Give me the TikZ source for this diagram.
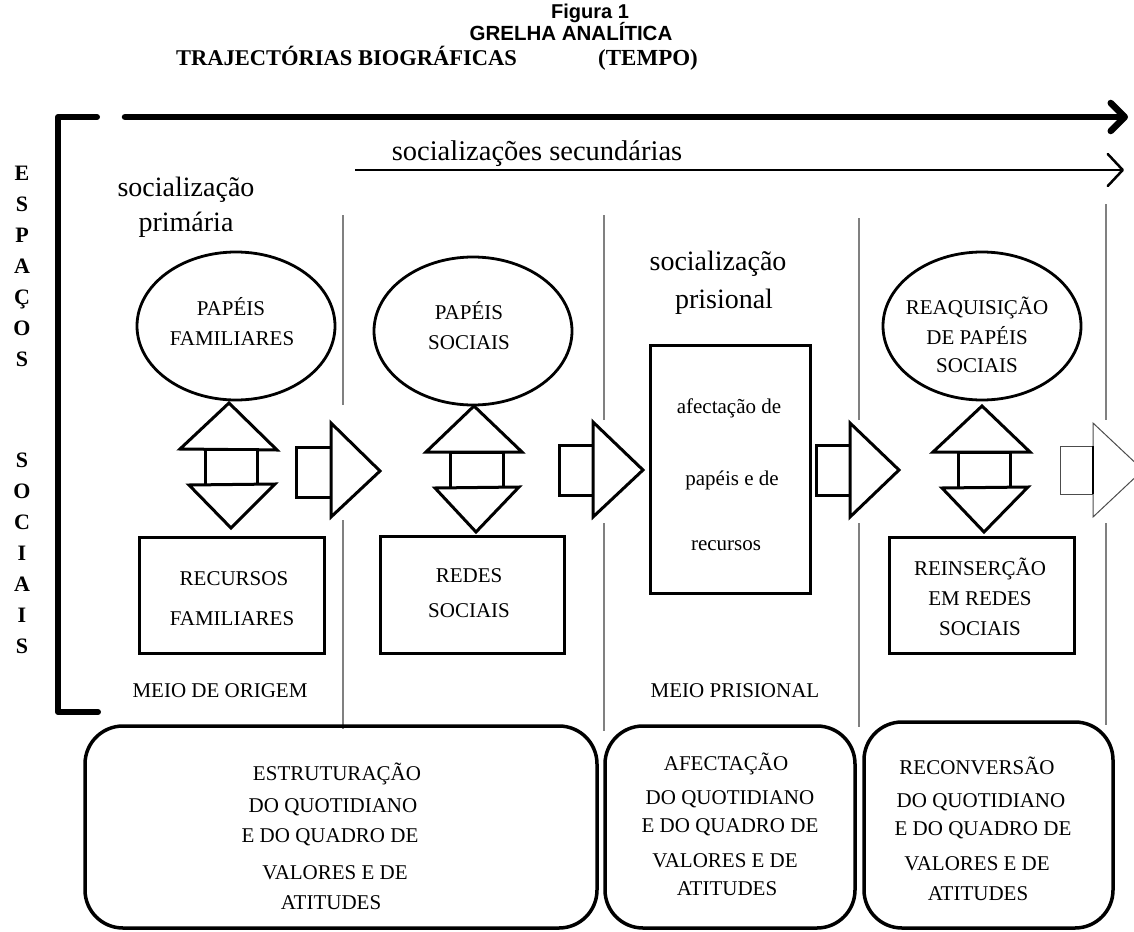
\documentclass[tikz,border=0pt]{standalone}
\usepackage{fontspec}
\setmainfont{Liberation Serif}
\newfontfamily\arialfont{Liberation Sans}
\usetikzlibrary{shapes.geometric,arrows.meta}
\begin{document}
\begin{tikzpicture}[x=1pt,y=-1pt,
  caps/.style={font=\fontsize{21}{25}\selectfont, anchor=base, inner sep=0pt},
  big/.style={font=\fontsize{28}{32}\selectfont, anchor=base, inner sep=0pt},
  lett/.style={font=\bfseries\fontsize{22}{26}\selectfont, anchor=base, inner sep=0pt},
  ell/.style={draw, ellipse, line width=2.8pt, minimum width=198pt, minimum height=148pt, inner sep=0pt},
  bx/.style={draw, rectangle, line width=3pt, inner sep=0pt},
  rbox/.style={draw, rectangle, rounded corners=38pt, line width=3.5pt, inner sep=0pt},
  blk/.style={draw, fill=white, line width=3pt, line join=miter},
  thinblk/.style={draw=black!70, fill=white, line width=1pt},
  sep/.style={draw=black!50, line width=1.2pt},
]
\clip (0,0) rectangle (1134,931);
\fill[white] (0,0) rectangle (1134,931);

% titles
\node[font=\arialfont\bfseries\fontsize{20}{23}\selectfont, anchor=base, inner sep=0pt] (fig) at (590,19) {Figura 1};
\node[font=\arialfont\bfseries\fontsize{20.5}{23}\selectfont, anchor=base, inner sep=0pt] (grelha) at (571,41) {GRELHA ANALÍTICA};
\node[font=\bfseries\fontsize{22.5}{26}\selectfont, anchor=base west, inner sep=0pt] (traj) at (176,66) {TRAJECTÓRIAS BIOGRÁFICAS};
\node[font=\bfseries\fontsize{23}{26}\selectfont, anchor=base west, inner sep=0pt] (tempo) at (598,66) {(TEMPO)};

% time arrows
\coordinate (ta0) at (125,117);
\coordinate (ta1) at (1128,117);
\draw[line width=6.5pt, line cap=round, -{Straight Barb[length=14pt, width=28pt, round]}] (ta0) -- (ta1);
\coordinate (sa0) at (355,170);
\coordinate (sa1) at (1124,170);
\draw[line width=2.5pt, -{Straight Barb[length=15pt, width=32pt, round]}] (sa0) -- (sa1);
\node[big, font=\fontsize{28.5}{32}\selectfont] (secund) at (537,160) {socializações secundárias};

% bracket
\draw[line width=6pt, line cap=round, line join=round] (97,117) -- (58,117) -- (58,712) -- (98,712);

% vertical letters
\foreach \l/\yy [count=\i] in {E/180, S/211, P/242, A/273, Ç/304, O/335, S/366, S/467, O/498, C/529, I/560, A/591, I/622, S/653}
  \node[lett] (let\i) at (22,\yy) {\l};

% separator lines
\draw[sep] (343,215) -- (343,405);
\draw[sep] (343,520) -- (343,729);
\draw[sep] (604,215) -- (604,420);
\draw[sep] (604,523) -- (604,731);
\draw[sep] (859,218) -- (859,420);
\draw[sep] (859,523) -- (859,727);
\draw[sep] (1106,204) -- (1106,420);
\draw[sep] (1106,523) -- (1106,725);

% labels
\node[big] (soc1) at (186,196) {socialização};
\node[big] (prim) at (186,231) {primária};
\node[big] (soc3) at (718,270) {socialização};
\node[big] (pris) at (724,308) {prisional};

% ellipses
\node[ell] (e1) at (236,326) {};
\node[caps] (e1a) at (231,315) {PAPÉIS};
\node[caps] (e1b) at (232,345) {FAMILIARES};
\node[ell] (e2) at (473,331) {};
\node[caps] (e2a) at (469,319) {PAPÉIS};
\node[caps] (e2b) at (469,349) {SOCIAIS};
\node[ell] (e4) at (982,326) {};
\node[caps] (e4a) at (977,314) {REAQUISIÇÃO};
\node[caps] (e4b) at (977,344) {DE PAPÉIS};
\node[caps] (e4c) at (977,372) {SOCIAIS};

% boxes
\node[bx, minimum width=185pt, minimum height=116pt] (b1) at (231.5,595) {};
\node[caps] (b1a) at (234,585) {RECURSOS};
\node[caps] (b1b) at (232,625) {FAMILIARES};
\node[bx, minimum width=184pt, minimum height=117pt] (b2) at (472,594.5) {};
\node[caps] (b2a) at (469,582) {REDES};
\node[caps] (b2b) at (469,617) {SOCIAIS};
\node[bx, minimum width=160pt, minimum height=248pt] (b3) at (730,469) {};
\node[caps] (b3a) at (729,413) {afectação de};
\node[caps] (b3b) at (732,485) {papéis e de};
\node[caps] (b3c) at (726,550) {recursos};
\node[bx, minimum width=185pt, minimum height=116pt] (b4) at (981.5,595) {};
\node[caps] (b4a) at (980,575) {REINSERÇÃO};
\node[caps] (b4b) at (980,605) {EM REDES};
\node[caps] (b4c) at (980,635) {SOCIAIS};

\node[caps] (meio1) at (220,697) {MEIO DE ORIGEM};
\node[caps] (meio3) at (735,697) {MEIO PRISIONAL};

% double arrows
\draw[blk] (180,449) -- (229,403) -- (277,450) -- cycle;
\draw[blk] (205,449) rectangle (257,485);
\draw[blk] (189,485) -- (275,484) -- (231,528) -- cycle;
\draw[blk] (426,452) -- (474,406) -- (522,452) -- cycle;
\draw[blk] (450,452) rectangle (503,488);
\draw[blk] (435,488) -- (519,487) -- (476,532) -- cycle;
\draw[blk] (933,452) -- (982,406) -- (1030,452) -- cycle;
\draw[blk] (958,452) rectangle (1010,488);
\draw[blk] (942,488) -- (1028,487) -- (984,532) -- cycle;

% right block arrows
\draw[blk] (296,447) rectangle (331,497);
\draw[blk] (331,423) -- (380,471) -- (331,517) -- cycle;
\draw[blk] (559,445) rectangle (593,495);
\draw[blk] (593,422) -- (643,470) -- (593,517) -- cycle;
\draw[blk] (816,445) rectangle (850,495);
\draw[blk] (850,423) -- (899,470) -- (850,517) -- cycle;
\draw[thinblk] (1060,446) rectangle (1093,494);
\draw[thinblk] (1093,423) -- (1143,470) -- (1093,517) -- cycle;
\draw[line width=1.8pt] (1093,446) -- (1093,494);

% bottom rounded boxes
\node[rbox, minimum width=512pt, minimum height=202pt] (ra) at (341,827) {};
\node[caps] (ra1) at (337,780) {ESTRUTURAÇÃO};
\node[caps] (ra2) at (333,812) {DO QUOTIDIANO};
\node[caps] (ra3) at (330,842) {E DO QUADRO DE};
\node[caps] (ra4) at (335,879) {VALORES E DE};
\node[caps] (ra5) at (331,909) {ATITUDES};
\node[rbox, minimum width=250pt, minimum height=202pt] (rb) at (730,827) {};
\node[caps] (rb1) at (726,770) {AFECTAÇÃO};
\node[caps] (rb2) at (730,804) {DO QUOTIDIANO};
\node[caps] (rb3) at (730,832) {E DO QUADRO DE};
\node[caps] (rb4) at (725,867) {VALORES E DE};
\node[caps] (rb5) at (727,895) {ATITUDES};
\node[rbox, minimum width=249pt, minimum height=206pt] (rc) at (988.5,825) {};
\node[caps] (rc1) at (977,774) {RECONVERSÃO};
\node[caps] (rc2) at (981,807) {DO QUOTIDIANO};
\node[caps] (rc3) at (983,835) {E DO QUADRO DE};
\node[caps] (rc4) at (977,870) {VALORES E DE};
\node[caps] (rc5) at (978,900) {ATITUDES};
\end{tikzpicture}
\end{document}
